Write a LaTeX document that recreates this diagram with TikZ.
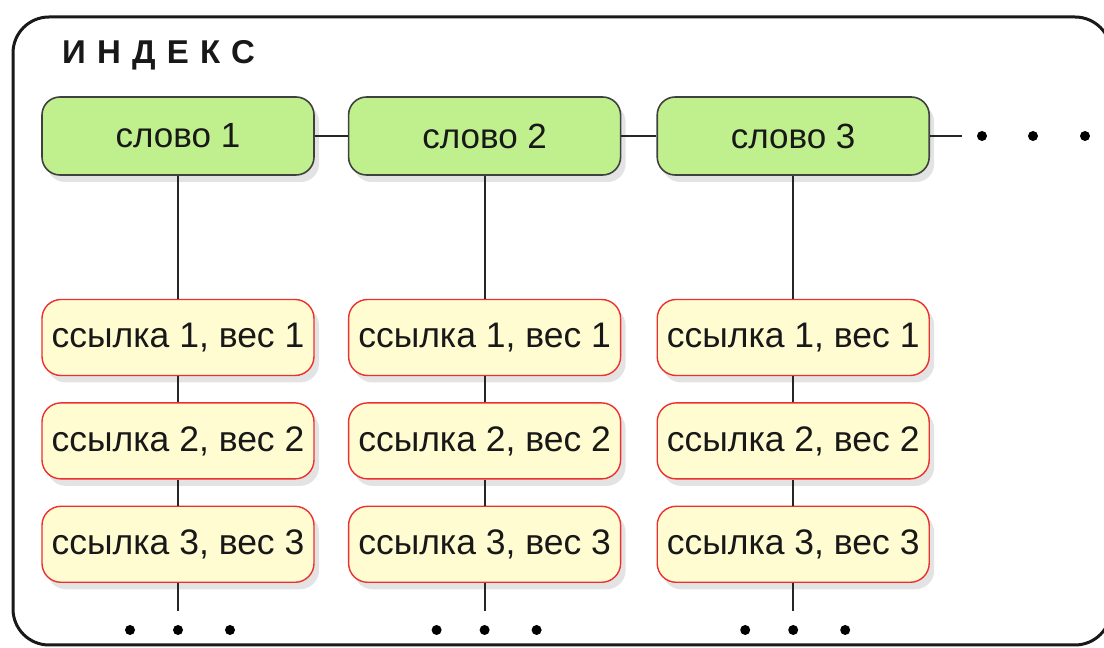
\documentclass[tikz,border=0pt]{standalone}
\usepackage{fontspec}
\setmainfont{Liberation Sans}
\usepackage{tikz}
\usetikzlibrary{positioning, shadows, calc}

\definecolor{wordgreen}{RGB}{192,240,142}
\definecolor{linkyellow}{RGB}{255,252,210}
\definecolor{linkred}{RGB}{236,48,48}
\definecolor{inktext}{RGB}{24,24,24}

\tikzset{
    wordbox/.style={draw=black!75, line width=1.6pt, fill=wordgreen, rounded corners=18pt,
        minimum width=272pt, minimum height=78pt, text=inktext,
        font=\fontsize{35}{42}\selectfont,
        drop shadow={opacity=0.22, shadow xshift=5pt, shadow yshift=-7pt}},
    linkbox/.style={draw=linkred, line width=1.4pt, fill=linkyellow, rounded corners=19pt,
        minimum width=272pt, minimum height=76pt, text=inktext,
        font=\fontsize{35.5}{42}\selectfont,
        drop shadow={opacity=0.22, shadow xshift=5pt, shadow yshift=-7pt}},
    chain/.style={line width=1.8pt, black!85},
    moredot/.style={circle, fill=black, inner sep=0pt, minimum size=10pt}
}

\begin{document}
\begin{tikzpicture}[x=1pt,y=1pt]
    \useasboundingbox (0,0) rectangle (1104,648);

    % Outer frame of the index
    \draw[black!90, line width=3pt, rounded corners=36pt]
        (13,3) -- (13,631) -- (1111,631) -- (1111,3) -- cycle;
    \node[anchor=west, font=\fontsize{33}{40}\selectfont\bfseries\addfontfeature{LetterSpace=34},
        text=inktext, inner sep=0pt] (title) at (62,593) {ИНДЕКС};

    % Words
    \node[wordbox] (w1) at (178,512) {слово 1};
    \node[wordbox, right=33pt of w1] (w2) {слово 2};
    \node[wordbox, right=35pt of w2] (w3) {слово 3};
    \coordinate (wend) at (962,512);

    \draw[chain] (w1) -- (w2);
    \draw[chain] (w2) -- (w3);
    \draw[chain] (w3) -- (wend);
    \node[moredot] (m1) at (982,512) {};
    \node[moredot] (m2) at (1033,512) {};
    \node[moredot] (m3) at (1085,512) {};

    % Links with weights under every word
    \foreach \c in {1,2,3} {
        \node[linkbox, below=123pt of w\c] (l\c1) {ссылка 1, вес 1};
        \node[linkbox, below=26pt of l\c1] (l\c2) {ссылка 2, вес 2};
        \node[linkbox, below=26pt of l\c2] (l\c3) {ссылка 3, вес 3};
        \coordinate (lend\c) at ($(l\c3.south)+(0,-28)$);

        \draw[chain] (w\c) -- (l\c1);
        \draw[chain] (l\c1) -- (l\c2);
        \draw[chain] (l\c2) -- (l\c3);
        \draw[chain] (l\c3) -- (lend\c);

        \node[moredot] (d\c a) at ($(lend\c)+(-48,-19)$) {};
        \node[moredot] (d\c b) at ($(lend\c)+(0,-19)$) {};
        \node[moredot] (d\c c) at ($(lend\c)+(52,-19)$) {};
    }
\end{tikzpicture}
\end{document}
